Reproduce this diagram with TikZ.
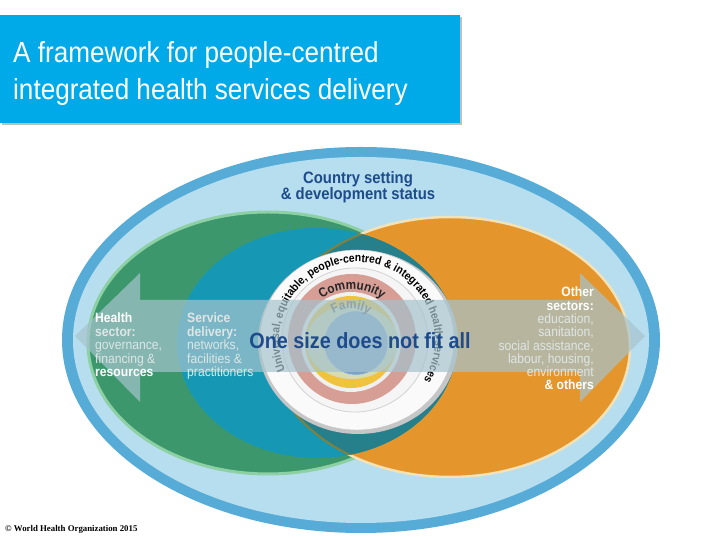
\documentclass[tikz,border=0pt]{standalone}
\usepackage{fontspec}
\setmainfont{Liberation Sans}
\newfontfamily\narrowsans[FakeStretch=0.9]{Liberation Sans}
\newfontfamily\copyfont{Liberation Serif}
\usetikzlibrary{decorations.text}
\definecolor{titleblue}{RGB}{0,170,232}
\definecolor{outerrim}{RGB}{86,172,214}
\definecolor{outerfill}{RGB}{182,222,239}
\definecolor{greenfill}{RGB}{60,152,108}
\definecolor{greenrim}{RGB}{140,208,164}
\definecolor{orangefill}{RGB}{228,150,45}
\definecolor{orangerim}{RGB}{243,226,184}
\definecolor{tealfill}{RGB}{22,152,180}
\definecolor{tealdark}{RGB}{38,128,140}
\definecolor{olivelink}{RGB}{130,128,60}
\definecolor{pinkring}{RGB}{215,158,150}
\definecolor{yellowring}{RGB}{240,195,60}
\definecolor{palegreen}{RGB}{214,220,176}
\definecolor{coreblue}{RGB}{124,163,200}
\definecolor{bandgray}{RGB}{165,195,205}
\definecolor{sidegray}{RGB}{222,230,230}
\definecolor{darkblue}{RGB}{30,75,140}
\newcommand\ringfont{\narrowsans\bfseries\fontsize{11.5}{13}\selectfont}
\newcommand\circfont{\narrowsans\bfseries\fontsize{13}{15}\selectfont}
\begin{document}
\begin{tikzpicture}[x=1pt, y=1pt,
  sidetext/.style={font=\narrowsans\fontsize{13.5}{13.5}\selectfont, text=sidegray, inner sep=0pt},
  ringlabel/.style={decorate, decoration={text along path, text align=center, text={#1}}}]
\useasboundingbox (0,0) rectangle (720,540);

% title box
\fill[black, opacity=0.25] (2,415) rectangle (462,523);
\fill[titleblue] (0,417) rectangle (460,525);
\node[anchor=base west, align=left, inner sep=0pt, text=white, font=\narrowsans\fontsize{29}{37}\selectfont] (title) at (13,440) {A framework for people-centred\\integrated health services delivery};

% country setting
\fill[outerrim] (361,200) ellipse [x radius=299pt, y radius=193pt];
\fill[outerfill] (361,200) ellipse [x radius=288pt, y radius=183pt];
\node[anchor=base, align=center, inner sep=0pt, text=darkblue, font=\narrowsans\bfseries\fontsize{16.5}{16.5}\selectfont] (setting) at (358,340) {Country setting\\\& development status};

% sectors
\fill[greenfill] (268,197) ellipse [x radius=180pt, y radius=131pt];
\draw[greenrim, line width=3pt] (268,197) ellipse [x radius=180pt, y radius=131pt];
\fill[orangefill] (450,193) ellipse [x radius=180pt, y radius=130pt];
\draw[orangerim, line width=2.5pt] (450,193) ellipse [x radius=180pt, y radius=130pt];
\fill[tealfill] (317,197) ellipse [x radius=140pt, y radius=115pt];
\begin{scope}
  \clip (317,197) ellipse [x radius=140pt, y radius=115pt];
  \fill[tealdark] (450,193) ellipse [x radius=180pt, y radius=130pt];
  \draw[olivelink, line width=2pt] (450,193) ellipse [x radius=180pt, y radius=130pt];
\end{scope}

% rings
\coordinate (ringc) at (357,200);
\fill[gray!45] (358,198) ellipse [x radius=100pt, y radius=92pt];
\draw[gray!45, fill=white!96!gray] (ringc) ellipse [x radius=97pt, y radius=90pt];
\draw[gray!35, line width=0.8pt, fill=white!92!gray] (355,200) ellipse [x radius=73pt, y radius=72pt];
\fill[pinkring] (352,201) ellipse [x radius=64pt, y radius=65pt];
\fill[white!88!gray] (351,198) circle [radius=50pt];
\fill[yellowring] (351,198) circle [radius=46pt];
\fill[palegreen] (352,198) ellipse [x radius=46pt, y radius=37pt];
\draw[white!60!coreblue, fill=coreblue] (356,197) circle [radius=32pt];
\path[ringlabel={|\ringfont|Universal, equitable, people-centred {\&} integrated health services}] (ringc) ++(206:78pt) arc [start angle=206, end angle=-34, radius=78pt];
\path[ringlabel={|\circfont\color{black!85}|Community}] (352,201) ++(140:50pt) arc [start angle=140, end angle=40, radius=50pt];
\path[ringlabel={|\circfont\color{black!65}|Family}] (351,198) ++(125:33pt) arc [start angle=125, end angle=55, radius=33pt];

% one size band
\fill[bandgray, opacity=0.7] (75,204) -- (140,267) -- (140,240) -- (580,240) -- (580,267) -- (645,204) -- (580,138) -- (580,168) -- (140,168) -- (140,138) -- cycle;

\node[sidetext, anchor=base west, align=left] (health) at (95,163) {\textbf{\color{white}Health}\\\textbf{sector:}\\governance,\\financing \&\\\textbf{\color{white}resources}};
\node[sidetext, anchor=base west, align=left] (service) at (187,163) {\textbf{Service}\\\textbf{delivery:}\\networks,\\facilities \&\\practitioners};
\node[sidetext, anchor=base east, align=right, font=\narrowsans\fontsize{13.5}{13.3}\selectfont] (other) at (594,150) {\textbf{\color{white}Other}\\\textbf{\color{white}sectors:}\\education,\\sanitation,\\social assistance,\\labour, housing,\\environment\\\textbf{\color{white}\& others}};

\node[anchor=base, inner sep=0pt, text=darkblue, font=\narrowsans\bfseries\fontsize{22}{22}\selectfont] (onesize) at (360,191) {One size does not fit all};

\node[anchor=base west, inner sep=0pt, font=\copyfont\bfseries\fontsize{8.8}{10}\selectfont] (copyright) at (5,8) {© World Health Organization 2015};
\end{tikzpicture}
\end{document}
